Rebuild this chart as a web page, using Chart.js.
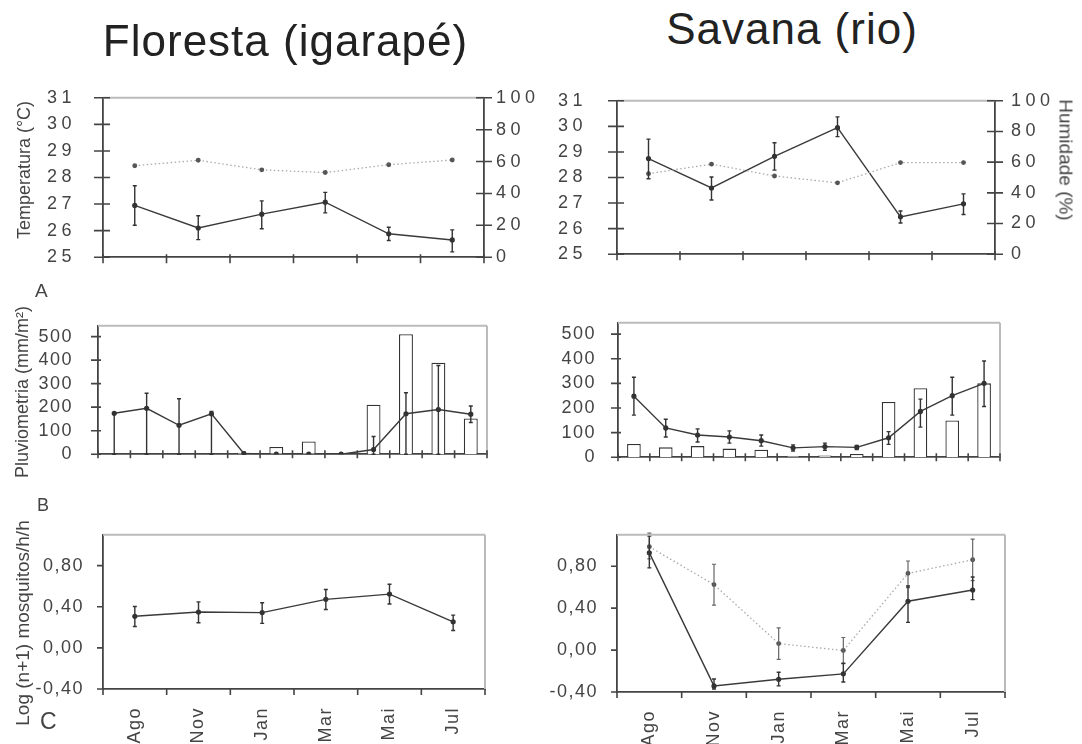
<!DOCTYPE html>
<html><head><meta charset="utf-8">
<script src="https://cdn.jsdelivr.net/npm/chart.js@4/dist/chart.umd.min.js"></script>
<style>
body{margin:0;background:#fff;width:1082px;height:744px;position:relative;overflow:hidden;font-family:"Liberation Sans",Arial,sans-serif;}
canvas{position:absolute;}
.t{position:absolute;color:#222;white-space:nowrap;line-height:1;z-index:5;}
.r{position:absolute;color:#444;white-space:nowrap;line-height:1;z-index:5;transform-origin:center center;}
</style></head><body>
<div class="t" style="left:285.5px;top:19px;font-size:44px;letter-spacing:1px;transform:translateX(-50%);">Floresta (igarapé)</div>
<div class="t" style="left:792px;top:7px;font-size:44px;letter-spacing:1px;transform:translateX(-50%);">Savana (rio)</div>
<div class="t" style="left:35px;top:281px;font-size:19px;color:#444;">A</div>
<div class="t" style="left:37px;top:496px;font-size:18px;color:#444;">B</div>
<div class="t" style="left:40px;top:710px;font-size:23px;color:#444;">C</div>
<div class="r" style="left:24px;top:170px;font-size:18px;transform:translate(-50%,-50%) rotate(-90deg);">Temperatura (°C)</div>
<div class="r" style="left:22px;top:392px;font-size:18px;transform:translate(-50%,-50%) rotate(-90deg);">Pluviometria (mm/m²)</div>
<div class="r" style="left:22px;top:623px;font-size:19px;transform:translate(-50%,-50%) rotate(-90deg);">Log (n+1) mosquitos/h/h</div>
<div class="r" style="left:1066px;top:160px;font-size:19px;transform:translate(-50%,-50%) rotate(90deg);">Humidade (%)</div>
<canvas id="cTL"></canvas><canvas id="cTR"></canvas>
<canvas id="cML"></canvas><canvas id="cMR"></canvas>
<canvas id="cBL"></canvas><canvas id="cBR"></canvas>
<script>
// ---------- DATA ----------
const months6 = ['Ago','Nov','Jan','Mar','Mai','Jul'];
const months12 = ['Ago','Set','Out','Nov','Dez','Jan','Fev','Mar','Abr','Mai','Jun','Jul'];

const tempTicks = [25,26,27,28,29,30,31];
const humTicks = [0,20,40,60,80,100];
const rainTicks = [0,100,200,300,400,500];
const mosqTicks = [-0.4,0,0.4,0.8];

// Floresta (igarapé) - temperature / humidity
const florTemp   = [26.95, 26.10, 26.62, 27.07, 25.88, 25.65];
const florTempLo = [26.20, 25.66, 26.07, 26.67, 25.63, 25.20];
const florTempHi = [27.69, 26.56, 27.12, 27.44, 26.13, 26.03];
const florHum    = [57.4, 60.8, 54.8, 53.1, 58.0, 61.0];

// Savana (rio) - temperature / humidity
const savTemp   = [28.74, 27.59, 28.83, 29.95, 26.46, 26.97];
const savTempLo = [27.95, 27.12, 28.29, 29.60, 26.22, 26.55];
const savTempHi = [29.50, 28.02, 29.36, 30.37, 26.69, 27.36];
const savHum    = [52.5, 58.7, 51.0, 46.5, 59.7, 59.7];

// Floresta - rainfall
const florRainBars = [null, null, null, null, 6, 31, 54, null, 210, 510, 389, 152];
const florRain     = [174, 195, 123, 172, 3, 0, 0, 0, 20, 172, 190, 170];
const florRainLo   = [0, 0, 0, 0, 0, 0, 0, 0, 0, 0, 0, 135];
const florRainHi   = [175, 259, 236, 182, 8, 0, 0, 0, 75, 261, 377, 205];

// Savana - rainfall
const savRainBars = [54, 40, 45, 35, 30, 5, 7, 13, 224, 280, 149, 300];
const savRain     = [248, 119, 90, 82, 67, 38, 43, 40, 79, 186, 250, 300];
const savRainLo   = [171, 82, 62, 57, 45, 25, 28, 31, 52, 122, 171, 206];
const savRainHi   = [325, 154, 115, 107, 90, 50, 57, 48, 104, 236, 325, 391];

// Floresta - mosquitoes
const florMosq   = [0.307, 0.349, 0.343, 0.472, 0.523, 0.253];
const florMosqLo = [0.208, 0.244, 0.238, 0.373, 0.427, 0.169];
const florMosqHi = [0.403, 0.448, 0.439, 0.568, 0.619, 0.319];

// Savana - mosquitoes (solid / dotted)
const savMosqA   = [0.928, -0.342, -0.279, -0.227, 0.466, 0.573];
const savMosqALo = [0.784, -0.371, -0.342, -0.305, 0.264, 0.481];
const savMosqAHi = [1.087, -0.276, -0.212, -0.126, 0.611, 0.697];
const savMosqB   = [0.986, 0.625, 0.062, -0.004, 0.732, 0.862];
const savMosqBLo = [0.871, 0.429, -0.088, -0.130, 0.596, 0.663];
const savMosqBHi = [1.116, 0.819, 0.212, 0.120, 0.850, 1.058];

// ---------- PLUGINS ----------
const errBars = {
  id:'errBars',
  afterDatasetsDraw(chart){
    const ctx = chart.ctx;
    chart.data.datasets.forEach((ds, di) => {
      if (!ds.errLo) return;
      const meta = chart.getDatasetMeta(di);
      const ys = chart.scales[meta.yAxisID];
      ctx.save();
      ctx.strokeStyle = ds.errColor || '#333';
      ctx.lineWidth = ds.errWidth || 1.4;
      meta.data.forEach((pt, i) => {
        const lo = ds.errLo[i], hi = ds.errHi[i];
        if (lo == null || hi == null || lo === hi) return;
        const y1 = ys.getPixelForValue(lo), y2 = ys.getPixelForValue(hi), x = pt.x;
        ctx.beginPath();
        ctx.moveTo(x, y1); ctx.lineTo(x, y2);
        ctx.moveTo(x-2, y1); ctx.lineTo(x+2, y1);
        ctx.moveTo(x-2, y2); ctx.lineTo(x+2, y2);
        ctx.stroke();
      });
      ctx.restore();
    });
  }
};
const axisDeco = {
  id:'axisDeco',
  beforeDraw(chart, args, opts){
    chart.ctx.letterSpacing = opts.ls || '0px';
  },
  afterDraw(chart, args, opts){
    const ctx = chart.ctx, a = chart.chartArea;
    ctx.save();
    if (opts.frame) {
      ctx.strokeStyle = opts.frameColor || '#bbb';
      ctx.lineWidth = opts.frameWidth || 2;
      ctx.beginPath();
      if (opts.frame.includes('top')) { ctx.moveTo(a.left, a.top); ctx.lineTo(a.right, a.top); }
      if (opts.frame.includes('right')) { ctx.moveTo(a.right, a.top); ctx.lineTo(a.right, a.bottom); }
      ctx.stroke();
    }
    ctx.strokeStyle = '#444';
    ctx.lineWidth = 1.6;
    const tk = opts.ticks || {};
    for (const id of Object.keys(tk)) {
      const s = chart.scales[id]; const inn = tk[id][0], out = tk[id][1];
      ctx.beginPath();
      if (s.axis === 'x') {
        const n = s.getLabels().length;
        for (let i = 0; i <= n; i++) {
          const px = s.getPixelForValue(i - 0.5);
          ctx.moveTo(px, s.top - inn); ctx.lineTo(px, s.top + out);
        }
      } else if (s.position === 'left') {
        s.ticks.forEach(t => { const py = s.getPixelForValue(t.value);
          ctx.moveTo(s.right - out, py); ctx.lineTo(s.right + inn, py); });
      } else {
        s.ticks.forEach(t => { const py = s.getPixelForValue(t.value);
          ctx.moveTo(s.left - inn, py); ctx.lineTo(s.left + out, py); });
      }
      ctx.stroke();
    }
    ctx.restore();
  }
};
Chart.register(errBars, axisDeco);

// ---------- HELPERS ----------
const FONT = {family:'"Liberation Sans", Arial, sans-serif', size:18};
const TXT = '#444';
const BORDER = {display:true, color:'#444', width:1.8};
function setup(id, box){
  const c = document.getElementById(id);
  c.width = box.w; c.height = box.h;
  c.style.left = box.x + 'px'; c.style.top = box.y + 'px';
  c.style.width = box.w + 'px'; c.style.height = box.h + 'px';
  return c;
}
function fixedTicks(arr){ return s => { s.ticks = arr.map(v => ({value:v})); }; }
const plain = v => String(v);
const comma = v => v.toFixed(2).replace('.', ',');

function xScale(box, area, labels, showLabels){
  return {
    type:'category', labels, offset:true,
    grid:{display:false, drawTicks:false}, border:BORDER,
    ticks: showLabels ? {display:true, minRotation:90, maxRotation:90, autoSkip:false, padding:18, color:TXT, font:FONT}
                      : {display:false},
    afterFit: s => { s.height = box.y + box.h - area.b; }
  };
}
function yScale(box, area, min, max, ticksArr, fmt, pad, pos){
  return {
    type:'linear', position:pos || 'left', min, max,
    grid:{display:false, drawTicks:false}, border:BORDER,
    ticks:{color:TXT, font:FONT, padding:pad, callback:fmt},
    afterBuildTicks: fixedTicks(ticksArr),
    afterFit: pos === 'right' ? (s => { s.width = box.x + box.w - area.r; })
                              : (s => { s.width = area.l - box.x; })
  };
}
function baseOpts(box, area, scales, deco, hasRight){
  return {
    responsive:false, animation:false, events:[],
    layout:{padding:{top: area.t - box.y, left:0, bottom:0, right: hasRight ? 0 : (box.x + box.w - area.r)}},
    plugins:{legend:{display:false}, tooltip:{enabled:false}, axisDeco:deco},
    scales
  };
}
const solidLine = (data, lo, hi, yAxisID) => ({
  type:'line', data, yAxisID, errLo:lo, errHi:hi,
  borderColor:'#3a3a3a', borderWidth:1.4, pointRadius:1.9, pointBackgroundColor:'#333',
  pointBorderColor:'#333', tension:0, order:0
});
const dotLine = (data, lo, hi, yAxisID) => ({
  type:'line', data, yAxisID, errLo:lo, errHi:hi, errColor:'#666', errWidth:1.2,
  borderColor:'#aaa', borderWidth:1.3, borderDash:[1.5,2.5], pointRadius:1.8,
  pointBackgroundColor:'#555', pointBorderColor:'#555', tension:0, order:0
});
const bars = (data) => ({
  type:'bar', data, yAxisID:'y', backgroundColor:'#fff', borderColor:'#333', borderWidth:1.3,
  barPercentage:0.43, categoryPercentage:1, order:1
});

// ---------- TOP PANELS ----------
function tempPanel(id, box, area, temp, lo, hi, hum, padL, padR){
  setup(id, box);
  new Chart(document.getElementById(id), {
    type:'line',
    data:{labels:months6, datasets:[ dotLine(hum, null, null, 'y2'), solidLine(temp, lo, hi, 'y') ]},
    options: baseOpts(box, area, {
      x: xScale(box, area, months6, false),
      y: yScale(box, area, 25, 31, tempTicks, plain, padL, 'left'),
      y2: yScale(box, area, 0, 100, humTicks, plain, padR, 'right')
    }, {ls:'4.5px', frame:['top'], frameColor:'#bbb', ticks:{y:[7,9], y2:[8,8], x:[3,6]}}, true)
  });
}
tempPanel('cTL', {x:0,y:60,w:540,h:235}, {l:103,t:86,r:484,b:263}, florTemp, florTempLo, florTempHi, florHum, 27, 12);
tempPanel('cTR', {x:540,y:60,w:542,h:235}, {l:617,t:86,r:995,b:263}, savTemp, savTempLo, savTempHi, savHum, 30, 16);

// ---------- MIDDLE PANELS ----------
function rainPanel(id, box, area, barsData, line, lo, hi, pad){
  setup(id, box);
  new Chart(document.getElementById(id), {
    type:'bar',
    data:{labels:months12, datasets:[ solidLine(line, lo, hi, 'y'), bars(barsData) ]},
    options: baseOpts(box, area, {
      x: xScale(box, area, months12, false),
      y: yScale(box, area, 0, 546, rainTicks, plain, pad, 'left')
    }, {ls:'1.5px', frame:['top','right'], frameColor:'#bbb', ticks:{y:[3,7], x:[4,4]}}, false)
  });
}
rainPanel('cML', {x:0,y:290,w:540,h:200}, {l:98,t:302,r:487,b:479}, florRainBars, florRain, florRainLo, florRainHi, 25);
rainPanel('cMR', {x:540,y:290,w:542,h:200}, {l:618,t:301,r:1000,b:484}, savRainBars, savRain, savRainLo, savRainHi, 22);

// ---------- BOTTOM PANELS ----------
function mosqPanel(id, box, area, datasets){
  setup(id, box);
  new Chart(document.getElementById(id), {
    type:'line',
    data:{labels:months6, datasets},
    options: baseOpts(box, area, {
      x: xScale(box, area, months6, true),
      y: yScale(box, area, -0.4, 1.1, mosqTicks, comma, 19, 'left')
    }, {ls:'1.5px', frame:['top','right'], frameColor:'#bbb', ticks:{y:[0,6], x:[0,6]}}, false)
  });
}
mosqPanel('cBL', {x:0,y:505,w:540,h:239}, {l:103,t:522,r:485,b:689},
  [ solidLine(florMosq, florMosqLo, florMosqHi, 'y') ]);
mosqPanel('cBR', {x:540,y:505,w:542,h:239}, {l:617,t:519,r:1005,b:692},
  [ dotLine(savMosqB, savMosqBLo, savMosqBHi, 'y'), solidLine(savMosqA, savMosqALo, savMosqAHi, 'y') ]);
</script>
</body></html>
